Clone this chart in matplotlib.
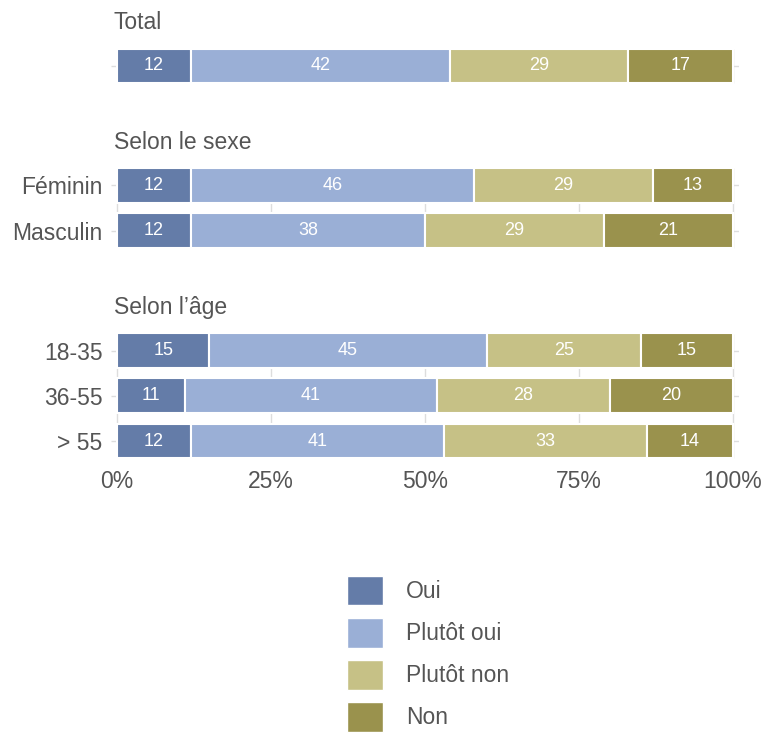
import numpy as np
import matplotlib.pyplot as plt
from matplotlib.patches import Patch

plt.rcParams['font.family'] = ['Liberation Sans', 'DejaVu Sans']

labels = ["", "Féminin", "Masculin", "18-35", "36-55", "> 55"]
oui = [12, 12, 12, 15, 11, 12]
plutot_oui = [42, 46, 38, 45, 41, 41]
plutot_non = [29, 29, 29, 25, 28, 33]
non = [17, 13, 21, 15, 20, 14]
series_names = ["Oui", "Plutôt oui", "Plutôt non", "Non"]
colors = ["#647ca8", "#9aafd6", "#c6c186", "#9a924d"]
groups = [("Total", [0]), ("Selon le sexe", [1, 2]), ("Selon l\u2019âge", [3, 4, 5])]

# row positions (in bar-pitch units), groups separated by a header slot
ypos = np.array([0, 2.63, 3.64, 6.29, 7.28, 8.28])
bar_h = 0.77
grey = "#555555"

fig = plt.figure(figsize=(7.65, 7.33), dpi=100)
ax = fig.add_axes([0.1449, 0.3705, 0.8214, 0.5673])

data = np.array([oui, plutot_oui, plutot_non, non], dtype=float)
shares = data / data.sum(axis=0)
left = np.zeros(len(labels))
for k in range(4):
    ax.barh(ypos, shares[k], left=left, height=bar_h, color=colors[k],
            edgecolor="white", linewidth=1.5, zorder=3, label=series_names[k])
    for i in range(len(labels)):
        ax.text(left[i] + shares[k][i] / 2, ypos[i], str(int(data[k][i])),
                ha="center", va="center", color="white", fontsize=13, zorder=4)
    left += shares[k]

# grid lines, only inside each group
for name, idx in groups:
    y0 = ypos[idx[0]] - 0.38
    y1 = ypos[idx[-1]] + 0.38
    ax.vlines([0, 0.25, 0.5, 0.75, 1.0], y0, y1, color="#dddddd", lw=1, zorder=1)
    ax.text(-0.005, ypos[idx[0]] - 0.95, name, ha="left", va="center",
            fontsize=16.5, color=grey, clip_on=False)
ax.hlines(ypos, -0.01, 1.01, color="#dddddd", lw=1, zorder=1)

ax.set_xlim(-0.01, 1.01)
ax.set_ylim(8.73, -0.45)
ax.set_yticks(ypos)
ax.set_yticklabels(labels)
ax.set_xticks([0, 0.25, 0.5, 0.75, 1.0])
ax.set_xticklabels(["0%", "25%", "50%", "75%", "100%"])
ax.tick_params(length=0, labelsize=16.5, labelcolor=grey, pad=6)
for s in ax.spines.values():
    s.set_visible(False)

handles = [Patch(facecolor=c, edgecolor="white") for c in colors]
fig.legend(handles, series_names, loc="upper left",
           bbox_to_anchor=(347 / 765, 1 - 576 / 733), frameon=False,
           fontsize=16.5, labelcolor=grey, handlelength=1.55, handleheight=1.6,
           labelspacing=0.55, handletextpad=1.03, borderpad=0, borderaxespad=0)

fig.savefig("out.png", dpi=100)
